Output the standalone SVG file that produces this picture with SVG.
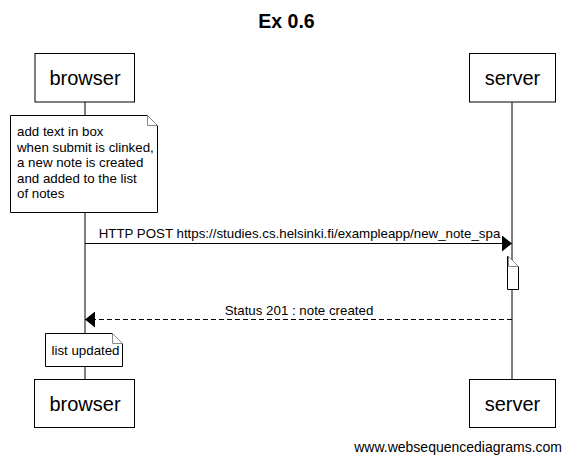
<svg xmlns="http://www.w3.org/2000/svg" width="570" height="463" viewBox="0 0 570 463">
<defs>
<style>
.box{fill:#fff;stroke:#000;stroke-width:1}
.note{fill:#fff;stroke:#000;stroke-width:1}
.fold{fill:#fff;stroke:#888;stroke-width:1}
.life{stroke:#000;stroke-width:1;fill:none}
.msg{stroke:#000;stroke-width:1;fill:none}
.lbl{font-family:"Liberation Sans",Arial,sans-serif;font-size:20px;fill:#000;text-anchor:middle}
.txt{font-family:"Liberation Sans",Arial,sans-serif;font-size:13.3px;fill:#000}
</style>
<marker id="ah" viewBox="0 0 10 16" refX="10" refY="8" markerWidth="10" markerHeight="16" markerUnits="userSpaceOnUse" orient="auto">
<path d="M0,0 L10,8 L0,16 Z" fill="#000"/>
</marker>
</defs>
<rect width="570" height="463" fill="#fff"/>
<text x="286.5" y="28" style="font-family:'Liberation Sans',Arial,sans-serif;font-size:19.5px;font-weight:bold;text-anchor:middle">Ex 0.6</text>
<g id="lifelines">
<line class="life" x1="85" y1="102" x2="85" y2="379"/>
<line class="life" x1="512" y1="102" x2="512" y2="379"/>
</g>
<g id="browser-top"><rect class="box" x="35" y="53.5" width="99.5" height="48.5"/><text class="lbl" x="85" y="85">browser</text></g>
<g id="server-top"><rect class="box" x="469.5" y="53.5" width="86" height="48.5"/><text class="lbl" x="512.5" y="85">server</text></g>
<g id="browser-bottom"><rect class="box" x="34.5" y="379.5" width="100" height="48"/><text class="lbl" x="85" y="411">browser</text></g>
<g id="server-bottom"><rect class="box" x="469.5" y="379.5" width="86" height="48"/><text class="lbl" x="512.5" y="411">server</text></g>
<g id="note1">
<path class="note" d="M10.5,115.5 H147.5 L157.5,125.5 V212.5 H10.5 Z"/>
<path class="fold" d="M147.5,115.5 V125.5 H157.5 Z"/>
<text class="txt" x="17" y="136">add text in box</text>
<text class="txt" x="17" y="152">when submit is clinked,</text>
<text class="txt" x="17" y="167">a new note is created</text>
<text class="txt" x="17" y="183">and added to the list</text>
<text class="txt" x="17" y="198">of notes</text>
</g>
<g id="note2">
<path class="note" d="M507.5,256.5 H508.5 L518.5,266.5 V289.5 H507.5 Z"/>
<path class="fold" d="M508.5,256.5 V266.5 H518.5 Z"/>
</g>
<g id="note3">
<path class="note" d="M45.5,333.5 H112.5 L122.5,343.5 V366.5 H45.5 Z"/>
<path class="fold" d="M112.5,333.5 V343.5 H122.5 Z"/>
<text class="txt" x="51.5" y="355">list updated</text>
</g>
<g id="connectors">
<line class="msg" x1="85" y1="243.5" x2="512" y2="243.5" marker-end="url(#ah)"/>
<text class="txt" x="299.5" y="238" text-anchor="middle">HTTP POST https://studies.cs.helsinki.fi/exampleapp/new_note_spa</text>
<line class="msg" x1="512" y1="319.5" x2="85" y2="319.5" stroke-dasharray="5,3" marker-end="url(#ah)"/>
<text class="txt" x="299" y="315" text-anchor="middle">Status 201 : note created</text>
</g>
<text x="562" y="452" style="font-family:'Liberation Sans',Arial,sans-serif;font-size:14px;text-anchor:end">www.websequencediagrams.com</text>
</svg>
